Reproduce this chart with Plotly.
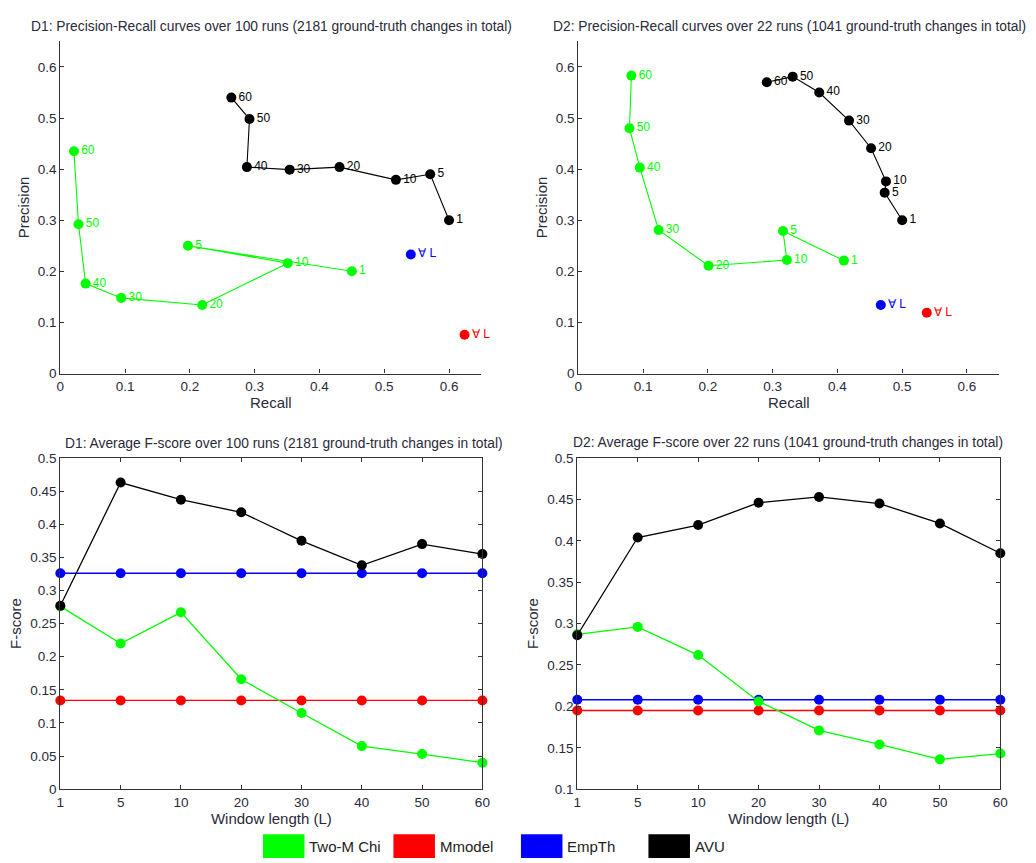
import plotly.graph_objects as go

# ---------------- data ----------------
window_labels = ["1", "5", "10", "20", "30", "40", "50", "60"]

# D1 precision-recall
d1_chi_recall = [0.450, 0.197, 0.351, 0.219, 0.094, 0.039, 0.028, 0.021]
d1_chi_precision = [0.200, 0.250, 0.216, 0.134, 0.148, 0.176, 0.292, 0.435]
d1_avu_recall = [0.600, 0.571, 0.518, 0.431, 0.354, 0.288, 0.292, 0.264]
d1_avu_precision = [0.300, 0.390, 0.379, 0.404, 0.399, 0.404, 0.498, 0.540]
d1_empth_pr = [0.541, 0.233]
d1_mmodel_pr = [0.624, 0.076]

# D2 precision-recall
d2_chi_recall = [0.410, 0.316, 0.322, 0.201, 0.124, 0.095, 0.079, 0.082]
d2_chi_precision = [0.221, 0.279, 0.222, 0.211, 0.281, 0.403, 0.480, 0.583]
d2_avu_recall = [0.500, 0.473, 0.475, 0.452, 0.418, 0.372, 0.331, 0.291]
d2_avu_precision = [0.300, 0.354, 0.376, 0.441, 0.495, 0.550, 0.581, 0.570]
d2_empth_pr = [0.467, 0.134]
d2_mmodel_pr = [0.538, 0.119]

# F-scores
d1_f_chi = [0.276, 0.220, 0.267, 0.166, 0.115, 0.065, 0.053, 0.040]
d1_f_avu = [0.277, 0.463, 0.437, 0.418, 0.375, 0.338, 0.370, 0.355]
d1_f_empth = [0.326] * 8
d1_f_mmodel = [0.134] * 8

d2_f_chi = [0.287, 0.296, 0.262, 0.206, 0.171, 0.154, 0.136, 0.143]
d2_f_avu = [0.286, 0.404, 0.419, 0.446, 0.453, 0.445, 0.421, 0.385]
d2_f_empth = [0.208] * 8
d2_f_mmodel = [0.195] * 8

legend_names = ["Two-M Chi", "Mmodel", "EmpTh", "AVU"]
legend_colors = ["#00ff00", "#ff0000", "#0000ff", "#000000"]

titles = [
    "D1: Precision-Recall curves over 100 runs (2181 ground-truth changes in total)",
    "D2: Precision-Recall curves over 22 runs (1041 ground-truth changes in total)",
    "D1: Average F-score over 100 runs (2181 ground-truth changes in total)",
    "D2: Average F-score over 22 runs (1041 ground-truth changes in total)",
]

GREEN, RED, BLUE, BLACK = legend_colors[0], legend_colors[1], legend_colors[2], legend_colors[3]
FONT = "Liberation Sans, Arial, sans-serif"
TXT = "#2a2a3a"
W, H = 1036, 863

fig = go.Figure()


def pr_trace(x, y, color, xa, ya, labels):
    fig.add_trace(go.Scatter(
        x=x, y=y, mode="lines+markers+text", text=labels,
        textposition="middle right",
        textfont=dict(color=color, size=12, family=FONT),
        line=dict(color=color, width=1.1),
        marker=dict(color=color, size=10),
        xaxis=xa, yaxis=ya, showlegend=False, cliponaxis=False,
    ))


def f_trace(y, color, xa, ya):
    fig.add_trace(go.Scatter(
        x=window_labels, y=y, mode="lines+markers",
        line=dict(color=color, width=1.3),
        marker=dict(color=color, size=10),
        xaxis=xa, yaxis=ya, showlegend=False, cliponaxis=False,
    ))


# top-left D1 PR
pr_trace(d1_chi_recall, d1_chi_precision, GREEN, "x", "y", window_labels)
pr_trace(d1_avu_recall, d1_avu_precision, BLACK, "x", "y", window_labels)
pr_trace([d1_empth_pr[0]], [d1_empth_pr[1]], BLUE, "x", "y", ["∀ L"])
pr_trace([d1_mmodel_pr[0]], [d1_mmodel_pr[1]], RED, "x", "y", ["∀ L"])

# top-right D2 PR
pr_trace(d2_chi_recall, d2_chi_precision, GREEN, "x2", "y2", window_labels)
pr_trace(d2_avu_recall, d2_avu_precision, BLACK, "x2", "y2", window_labels)
pr_trace([d2_empth_pr[0]], [d2_empth_pr[1]], BLUE, "x2", "y2", ["∀ L"])
pr_trace([d2_mmodel_pr[0]], [d2_mmodel_pr[1]], RED, "x2", "y2", ["∀ L"])

# bottom-left D1 F-score
f_trace(d1_f_mmodel, RED, "x3", "y3")
f_trace(d1_f_empth, BLUE, "x3", "y3")
f_trace(d1_f_chi, GREEN, "x3", "y3")
f_trace(d1_f_avu, BLACK, "x3", "y3")

# bottom-right D2 F-score
f_trace(d2_f_mmodel, RED, "x4", "y4")
f_trace(d2_f_empth, BLUE, "x4", "y4")
f_trace(d2_f_chi, GREEN, "x4", "y4")
f_trace(d2_f_avu, BLACK, "x4", "y4")


def px_x(p):
    return p / W


def px_y(p):
    return 1 - p / H


axis_common = dict(
    showgrid=False, zeroline=False, showline=True, linecolor="#333333", linewidth=1.3,
    ticks="inside", ticklen=4, tickcolor="#333333",
    tickfont=dict(size=13.5, family=FONT, color=TXT),
    title_font=dict(size=15, family=FONT, color=TXT),
)

pr_ticks = [0, 0.1, 0.2, 0.3, 0.4, 0.5, 0.6]
pr_ticktext = ["0", "0.1", "0.2", "0.3", "0.4", "0.5", "0.6"]

fig.update_layout(
    width=W, height=H,
    margin=dict(l=0, r=0, t=0, b=0),
    paper_bgcolor="white", plot_bgcolor="white",
    font=dict(family=FONT, color=TXT),
    xaxis=dict(domain=[px_x(57), px_x(483)], range=[0, 0.65], anchor="y",
               tickvals=pr_ticks, ticktext=pr_ticktext,
               title=dict(text="Recall", standoff=0), **axis_common),
    yaxis=dict(domain=[px_y(373), px_y(35)], range=[0, 0.65], anchor="x",
               tickvals=pr_ticks, ticktext=pr_ticktext,
               title=dict(text="Precision", standoff=4), **axis_common),
    xaxis2=dict(domain=[px_x(581), px_x(1007)], range=[0, 0.65], anchor="y2",
                tickvals=pr_ticks, ticktext=pr_ticktext,
                title=dict(text="Recall", standoff=0), **axis_common),
    yaxis2=dict(domain=[px_y(373), px_y(35)], range=[0, 0.65], anchor="x2",
                tickvals=pr_ticks, ticktext=pr_ticktext,
                title=dict(text="Precision", standoff=4), **axis_common),
    xaxis3=dict(domain=[px_x(57), px_x(484)], type="category", range=[0, 7], anchor="y3",
                mirror="ticks", title=dict(text="Window length (L)", standoff=0), **axis_common),
    yaxis3=dict(domain=[px_y(796), px_y(459)], range=[0, 0.5], anchor="x3",
                tickvals=[0, 0.05, 0.1, 0.15, 0.2, 0.25, 0.3, 0.35, 0.4, 0.45, 0.5],
                ticktext=["0", "0.05", "0.1", "0.15", "0.2", "0.25", "0.3", "0.35", "0.4", "0.45", "0.5"],
                mirror="ticks", title=dict(text="F-score", standoff=4), **axis_common),
    xaxis4=dict(domain=[px_x(580), px_x(1008)], type="category", range=[0, 7], anchor="y4",
                mirror="ticks", title=dict(text="Window length (L)", standoff=0), **axis_common),
    yaxis4=dict(domain=[px_y(796), px_y(459)], range=[0.1, 0.5], anchor="x4",
                tickvals=[0.1, 0.15, 0.2, 0.25, 0.3, 0.35, 0.4, 0.45, 0.5],
                ticktext=["0.1", "0.15", "0.2", "0.25", "0.3", "0.35", "0.4", "0.45", "0.5"],
                mirror="ticks", title=dict(text="F-score", standoff=4), **axis_common),
)

# subplot titles
title_pos = [(271, 20), (795, 20), (283, 444), (793, 443)]
for t, (cx, cy) in zip(titles, title_pos):
    fig.add_annotation(text=t, x=px_x(cx), y=px_y(cy), xref="paper", yref="paper",
                       showarrow=False, xanchor="center", yanchor="middle",
                       font=dict(size=13.8, family=FONT, color=TXT))

# bottom legend (rectangles + labels)
legend_x = [262, 394, 523, 652]
for name, color, lx in zip(legend_names, legend_colors, legend_x):
    fig.add_shape(type="rect", xref="paper", yref="paper",
                  x0=px_x(lx), x1=px_x(lx + 42), y0=px_y(866), y1=px_y(842),
                  fillcolor=color, line=dict(color=color, width=0))
    fig.add_annotation(text=name, x=px_x(lx + 45), y=px_y(854), xref="paper", yref="paper",
                       showarrow=False, xanchor="left", yanchor="middle",
                       font=dict(size=15, family="Liberation Sans, Arial, sans-serif", color="#222222"))

fig.write_html("out.html")
